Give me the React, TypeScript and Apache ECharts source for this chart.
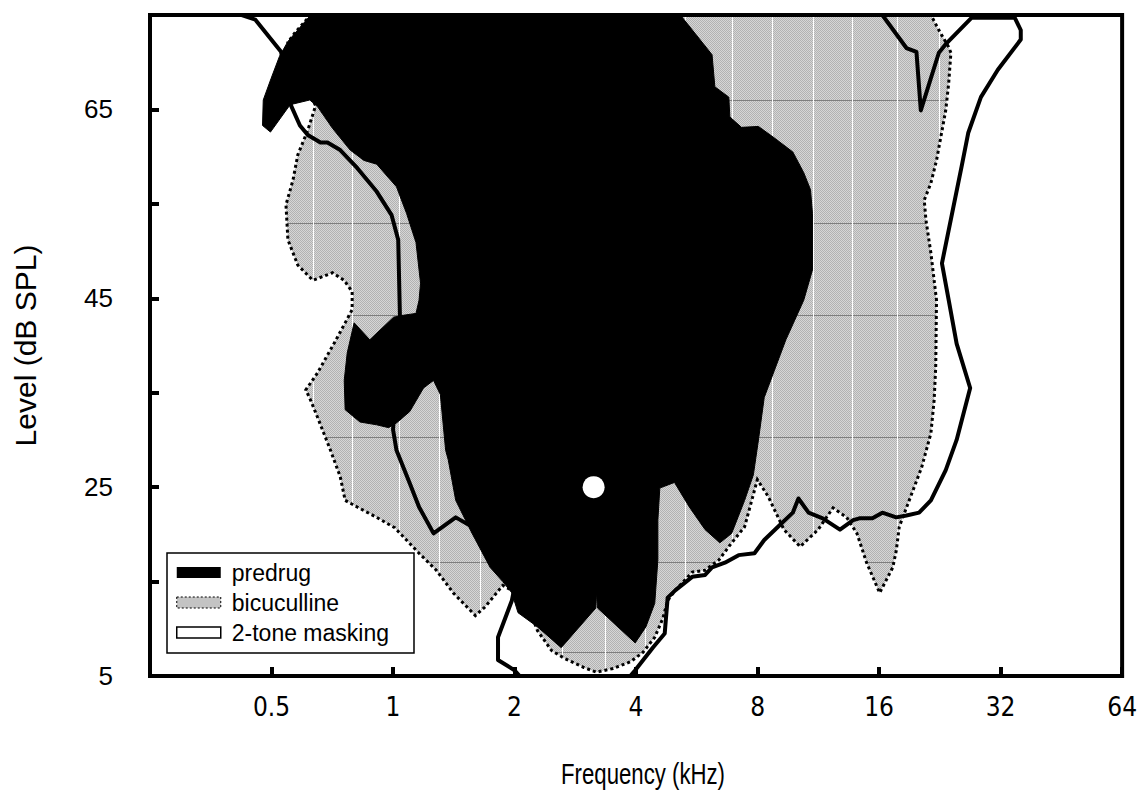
import { useEffect, useRef } from 'react';
import * as echarts from 'echarts';

// Response areas, [frequency kHz, level dB SPL], traced as closed contours.
const predrugContour: [number, number][] = [
  [0.625, 75], [5.15, 75], [6.17, 70.8], [6.27, 67.4], [6.79, 66.3], [6.83, 64.2], [7.3, 63.1],
  [8.04, 63.2], [8.79, 62.0], [9.78, 60.5], [10.41, 58.3], [10.82, 56.5], [10.94, 54.0],
  [10.94, 48.0], [10.41, 44.8], [9.4, 40.6], [8.31, 34.5], [8.04, 30.0], [7.81, 26.3],
  [7.43, 23.6], [6.9, 20.1], [6.45, 19.1], [5.93, 20.5], [5.42, 22.9], [4.98, 25.5],
  [4.58, 24.9], [4.53, 21.5], [4.53, 17.3], [4.45, 12.7], [4.23, 10.2], [3.98, 8.5],
  [3.21, 12.2], [3.19, 13.9], [3.18, 12.2], [2.61, 8.0], [2.28, 10.2], [2.04, 11.7],
  [1.97, 13.8], [1.87, 15.0], [1.74, 16.5], [1.57, 20.1], [1.43, 23.6], [1.37, 27.9],
  [1.35, 28.9], [1.31, 34.8], [1.26, 36.3], [1.19, 35.5], [1.1, 33.0], [1.02, 31.8],
  [0.975, 31.3], [0.911, 31.6], [0.828, 31.9], [0.761, 33.2], [0.757, 36.3], [0.77, 39.2],
  [0.801, 42.4], [0.876, 40.6], [1.003, 43.0], [1.06, 43.2], [1.14, 43.4], [1.16, 44.8],
  [1.17, 46.6], [1.14, 50.9], [1.08, 54.0], [1.02, 56.8], [0.911, 59.2], [0.847, 59.6],
  [0.783, 60.7], [0.708, 63.0], [0.65, 65.3], [0.622, 66.0], [0.556, 65.5], [0.497, 62.6],
  [0.475, 63.3], [0.477, 66.0], [0.499, 68.3], [0.523, 70.6], [0.549, 72.2],
];

const bicucullineContour: [number, number][] = [
  [0.625, 75], [21.5, 75], [22.5, 73.4], [23.8, 71.6], [24.1, 71.0], [23.8, 67.8], [23.4, 64.9],
  [22.2, 59.6], [21.5, 57.2], [20.7, 55.4], [20.9, 53.3], [21.5, 49.8], [22.2, 44.8],
  [22.1, 37.7], [21.9, 34.2], [21.5, 30.7], [20.4, 27.1], [19.0, 23.6], [17.95, 20.8],
  [17.65, 18.3], [17.3, 16.5], [16.05, 13.8], [14.9, 17.0], [14.1, 20.1], [13.3, 21.8],
  [12.3, 22.8], [11.3, 20.5], [10.2, 18.7], [9.3, 20.5], [8.5, 24.0], [7.99, 25.8],
  [7.43, 20.8], [6.9, 19.1], [6.42, 17.3], [5.93, 16.2], [5.51, 16.0], [5.01, 14.1],
  [4.79, 13.0], [4.66, 11.1], [4.45, 9.1], [4.16, 7.5], [3.87, 6.5], [3.51, 5.8], [3.19, 5.4],
  [2.97, 5.9], [2.65, 6.9], [2.47, 7.7], [2.28, 9.8], [2.12, 13.3], [1.87, 14.6], [1.69, 12.3],
  [1.6, 11.4], [1.41, 13.8], [1.28, 16.2], [1.16, 18.0], [1.01, 20.7], [0.911, 21.8],
  [0.815, 22.9], [0.761, 23.6], [0.74, 26.1], [0.7, 28.9], [0.65, 32.4], [0.625, 34.2],
  [0.608, 35.3], [0.65, 37.1], [0.716, 40.3], [0.761, 42.4], [0.792, 43.8], [0.792, 45.7],
  [0.757, 46.9], [0.708, 47.7], [0.633, 46.9], [0.581, 48.5], [0.549, 51.2], [0.543, 54.9],
  [0.565, 57.5], [0.581, 60.2], [0.615, 62.8], [0.643, 65.4], [0.598, 68.1], [0.549, 72.1],
  [0.571, 73.1],
];

const twoToneContour: [number, number][] = [
  [0.422, 75], [0.456, 74.5], [0.528, 71.1], [0.543, 68.3], [0.559, 65.4], [0.588, 63.3],
  [0.615, 62.3], [0.661, 61.5], [0.688, 61.5], [0.74, 60.7], [0.815, 58.8], [0.911, 56.3],
  [0.992, 53.8], [1.03, 51.2], [1.04, 43.2], [1.02, 36.3], [1.0, 31.1], [1.02, 28.9],
  [1.1, 25.4], [1.16, 22.9], [1.26, 20.1], [1.43, 21.8], [1.79, 19.4], [2.0, 14.4],
  [1.97, 13.0], [1.82, 9.1], [1.82, 6.7], [2.0, 5.6], [2.06, 5], [3.87, 5], [3.98, 5.6],
  [4.4, 8.0], [4.71, 9.5], [4.79, 13.3], [5.01, 14.1], [5.51, 15.5], [5.93, 15.7],
  [6.17, 16.5], [6.64, 17.0], [7.18, 17.8], [7.86, 18.0], [8.31, 19.4], [8.99, 20.8],
  [9.78, 22.3], [10.1, 23.8], [10.7, 22.3], [11.6, 21.7], [12.8, 20.5], [13.8, 21.5],
  [14.3, 21.7], [15.4, 21.7], [16.3, 22.3], [17.65, 21.8], [18.7, 22.0], [20.1, 22.3],
  [21.5, 23.6], [23.4, 26.8], [24.9, 30.0], [26.9, 35.5], [24.9, 40.2], [23.8, 44.8],
  [22.9, 48.7], [25.6, 58.9], [26.6, 62.5], [28.6, 66.3], [31.5, 69.2], [35.9, 72.4],
  [35.9, 73.4], [34.7, 74.7], [27.1, 74.7], [23.5, 72.0], [22.5, 71.0], [20.3, 64.9],
  [19.8, 71.1], [18.7, 71.5], [16.3, 75],
];

// Characteristic frequency / threshold marker.
const cfPoint: [number, number][] = [[3.14, 25]];

// Screen lines of the bicuculline fill texture (kHz verticals, dB horizontals).
const hatchFreqs = [
  0.632, 0.792, 1.032, 1.299, 1.645, 2.083, 2.623, 3.36, 4.21, 5.3, 6.9, 8.7, 10.95, 13.7, 17.75, 22.5,
];
const hatchLevels = [66.0, 53.0, 43.2, 30.3, 17.1, 7.5];

const seriesNames = ['predrug', 'bicuculline', '2-tone masking'];
const labeledLevels = [5, 25, 45, 65];
const xTitle = 'Frequency (kHz)';

const FONT = '"Liberation Sans", Arial, Helvetica, sans-serif';
const NARROW = '"Liberation Sans Narrow", "Arial Narrow", "DejaVu Sans Condensed", "Liberation Sans", sans-serif';
const GRAY = '#c3c3c3';

// Fine stipple used for the bicuculline area.
function makeStipple() {
  const c = document.createElement('canvas');
  c.width = 2;
  c.height = 2;
  const ctx = c.getContext('2d');
  if (!ctx) return GRAY;
  ctx.fillStyle = '#b2b2b2';
  ctx.fillRect(0, 0, 1, 1);
  ctx.fillRect(1, 1, 1, 1);
  ctx.fillStyle = '#d6d6d6';
  ctx.fillRect(1, 0, 1, 1);
  ctx.fillRect(0, 1, 1, 1);
  return { image: c, repeat: 'repeat' } as any;
}

// Intervals along a vertical (axis 0) or horizontal (axis 1) screen line lying inside a polygon.
function insideSpans(poly: number[][], pos: number, axis: 0 | 1): [number, number][] {
  const other = axis === 0 ? 1 : 0;
  const hits: number[] = [];
  for (let i = 0; i < poly.length; i++) {
    const a = poly[i];
    const b = poly[(i + 1) % poly.length];
    if ((a[axis] <= pos && b[axis] > pos) || (b[axis] <= pos && a[axis] > pos)) {
      const t = (pos - a[axis]) / (b[axis] - a[axis]);
      hits.push(a[other] + t * (b[other] - a[other]));
    }
  }
  hits.sort((m, n) => m - n);
  const spans: [number, number][] = [];
  for (let i = 0; i + 1 < hits.length; i += 2) spans.push([hits[i], hits[i + 1]]);
  return spans;
}

function contourSeries(name: string, pts: [number, number][], style: any, legendColor: string, z: number) {
  return {
    type: 'custom',
    name,
    z,
    coordinateSystem: 'cartesian2d',
    clip: true,
    data: pts,
    encode: { x: 0, y: 1 },
    itemStyle: { color: legendColor },
    renderItem: (params: any, api: any) => {
      if (params.dataIndex !== 0) return null;
      const points = pts.map((p) => api.coord(p));
      return { type: 'polygon', shape: { points }, style };
    },
  };
}

function bicucullineSeries(z: number) {
  return {
    type: 'custom',
    name: seriesNames[1],
    z,
    coordinateSystem: 'cartesian2d',
    clip: true,
    data: bicucullineContour,
    encode: { x: 0, y: 1 },
    itemStyle: { color: GRAY },
    renderItem: (params: any, api: any) => {
      if (params.dataIndex !== 0) return null;
      const points = bicucullineContour.map((p) => api.coord(p));
      const children: any[] = [
        { type: 'polygon', shape: { points }, style: { fill: makeStipple(), stroke: 'none' } },
      ];
      hatchLevels.forEach((lv) => {
        const y = Math.round(api.coord([1, lv])[1]) + 0.5;
        insideSpans(points, y, 1).forEach(([x1, x2]) => {
          children.push({
            type: 'line',
            shape: { x1, y1: y, x2, y2: y },
            style: { stroke: '#7e7e7e', lineWidth: 1 },
          });
        });
      });
      hatchFreqs.forEach((f) => {
        const x = Math.round(api.coord([f, 40])[0]) + 0.5;
        insideSpans(points, x, 0).forEach(([y1, y2]) => {
          children.push({
            type: 'line',
            shape: { x1: x, y1, x2: x, y2 },
            style: { stroke: '#ffffff', lineWidth: 1 },
          });
        });
      });
      children.push({
        type: 'polygon',
        shape: { points },
        style: { fill: 'none', stroke: '#000', lineWidth: 3, lineDash: [3, 3] },
      });
      return { type: 'group', children };
    },
  };
}

export default function App() {
  const ref = useRef<HTMLDivElement>(null);

  useEffect(() => {
    const chart = echarts.init(ref.current!, null, { renderer: 'svg', width: 1140, height: 791 });
    const option: any = {
      animation: false,
      backgroundColor: '#fff',
      grid: {
        left: 150,
        right: 4,
        top: 15,
        bottom: 115,
        show: true,
        borderColor: '#000',
        borderWidth: 4,
        z: 10,
      },
      xAxis: {
        type: 'log',
        logBase: 2,
        min: 0.25,
        max: 64,
        interval: 1,
        z: 10,
        axisLine: { show: true, lineStyle: { color: '#000', width: 4 } },
        axisTick: { show: true, inside: true, length: 9, lineStyle: { color: '#000', width: 4 } },
        axisLabel: {
          fontSize: 26,
          color: '#000',
          fontFamily: NARROW,
          margin: 18,
          formatter: (v: number) => {
            if (v < 0.3) return '';
            return v < 1 ? String(Math.round(v * 100) / 100) : String(Math.round(v));
          },
        },
        splitLine: { show: false },
      },
      yAxis: {
        type: 'value',
        min: 5,
        max: 75,
        interval: 10,
        z: 10,
        name: 'Level (dB SPL)',
        nameLocation: 'middle',
        nameGap: 110,
        nameTextStyle: { fontSize: 30, color: '#000', fontFamily: FONT },
        axisLine: { show: true, lineStyle: { color: '#000', width: 4 } },
        axisTick: { show: true, inside: true, length: 9, lineStyle: { color: '#000', width: 4 } },
        axisLabel: {
          fontSize: 26,
          color: '#000',
          fontFamily: FONT,
          margin: 37,
          formatter: (v: number) => (labeledLevels.includes(Math.round(v)) ? String(Math.round(v)) : ''),
        },
        splitLine: { show: false },
      },
      graphic: [
        {
          type: 'text',
          x: 643,
          y: 774,
          scaleX: 0.74,
          style: {
            text: xTitle,
            fontSize: 30,
            fontFamily: FONT,
            fill: '#000',
            textAlign: 'center',
            textVerticalAlign: 'middle',
          },
        },
      ],
      legend: {
        left: 167,
        top: 553,
        orient: 'vertical',
        icon: 'rect',
        itemWidth: 44,
        itemHeight: 11,
        itemGap: 7,
        padding: [8, 25, 9, 9],
        borderColor: '#000',
        borderWidth: 1.5,
        backgroundColor: '#fff',
        selectedMode: false,
        z: 12,
        textStyle: { fontSize: 23, color: '#000', fontFamily: FONT, padding: [0, 0, 0, 6] },
        data: [
          { name: seriesNames[0], itemStyle: { color: '#000' } },
          {
            name: seriesNames[1],
            itemStyle: { color: GRAY, borderColor: '#000', borderWidth: 1, borderType: [2, 2] },
          },
          { name: seriesNames[2], itemStyle: { color: '#fff', borderColor: '#000', borderWidth: 1.5 } },
        ],
      },
      series: [
        bicucullineSeries(1),
        contourSeries(
          seriesNames[2],
          twoToneContour,
          { fill: 'none', stroke: '#000', lineWidth: 4, lineJoin: 'round' },
          '#fff',
          2
        ),
        contourSeries(seriesNames[0], predrugContour, { fill: '#000', stroke: '#000', lineWidth: 1 }, '#000', 3),
        {
          type: 'scatter',
          name: 'CF',
          z: 5,
          data: cfPoint,
          symbol: 'circle',
          symbolSize: 22,
          itemStyle: { color: '#fff', opacity: 1 },
          silent: true,
        },
      ],
    };
    chart.setOption(option);
    return () => chart.dispose();
  }, []);

  return (
    <div
      ref={ref}
      style={{ position: 'fixed', left: 0, top: 0, width: 1140, height: 791, background: '#fff' }}
    />
  );
}
